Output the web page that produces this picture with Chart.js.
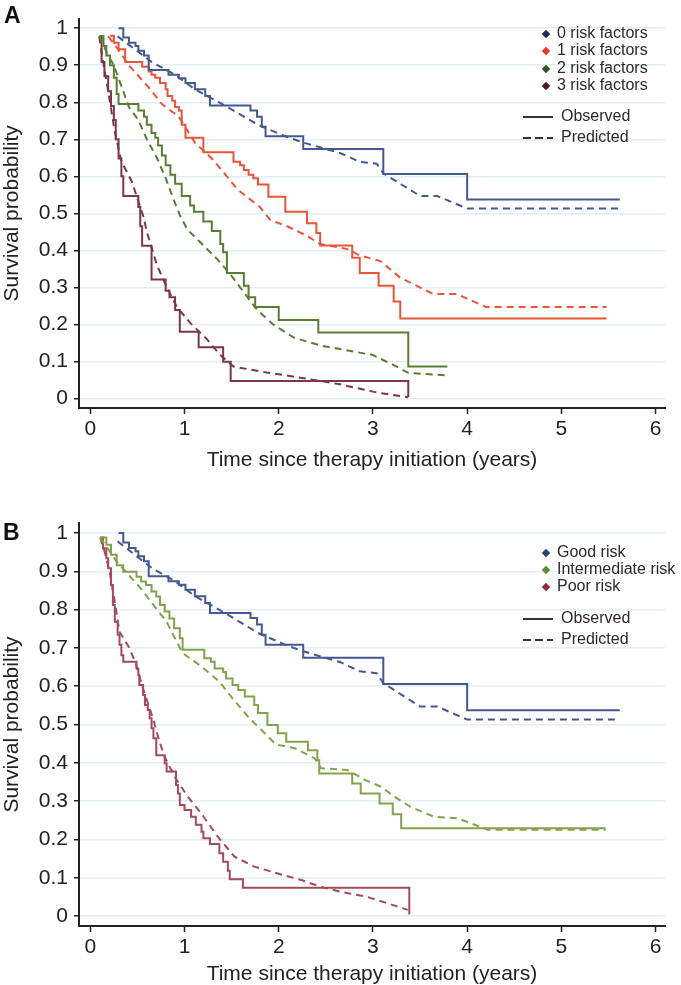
<!DOCTYPE html>
<html>
<head>
<meta charset="utf-8">
<script src="https://cdn.jsdelivr.net/npm/chart.js@4.4.1/dist/chart.umd.min.js"></script>
<style>
  body { margin: 0; overflow: hidden; background: #fff; font-family: "Liberation Sans", Arial, sans-serif; }
  #wrap { position: relative; width: 681px; height: 985px; }
  canvas { position: absolute; left: 0; }
  .panel { position: absolute; font-weight: bold; font-size: 23px; color: #111; }
  .lg { position: absolute; font-size: 16px; line-height: 18px; color: #2a2a2a; white-space: nowrap; }
  .dia { position: absolute; width: 6px; height: 6px; transform: rotate(45deg); }
  .key { position: absolute; width: 30px; height: 2px; }
</style>
</head>
<body>
<div id="wrap">
  <canvas id="chartA" width="681" height="490" style="top:0"></canvas>
  <canvas id="chartB" width="681" height="495" style="top:490px"></canvas>
  <div class="panel" style="left:4px;top:2px">A</div>
  <div class="panel" style="left:3px;top:519px">B</div>
</div>
<script>
// tick labels
const xTicks = [0, 1, 2, 3, 4, 5, 6];
const yTicks = [0, 0.1, 0.2, 0.3, 0.4, 0.5, 0.6, 0.7, 0.8, 0.9, 1];

// panel A categories
const catsA = ['0 risk factors', '1 risk factors', '2 risk factors', '3 risk factors'];
// panel B categories
const catsB = ['Good risk', 'Intermediate risk', 'Poor risk'];
const keyLabels = ['Observed', 'Predicted'];

// A: 0 risk factors
const zeroObsT = [0.30,0.35,0.41,0.48,0.51,0.57,0.62,0.83,0.94,1.01,1.11,1.22,1.27,1.70,1.77,1.82,1.86,2.26,3.11,4.00,5.62];
const zeroObsS = [1.000,0.975,0.961,0.952,0.939,0.926,0.887,0.874,0.865,0.852,0.835,0.817,0.791,0.778,0.761,0.734,0.708,0.674,0.606,0.537,0.537];
const zeroPredT = [0.29,0.65,0.90,1.11,1.43,1.78,2.07,2.26,2.65,2.86,3.04,3.11,3.50,3.68,4.00,5.62];
const zeroPredS = [0.978,0.909,0.874,0.835,0.791,0.739,0.708,0.691,0.663,0.639,0.634,0.608,0.547,0.547,0.513,0.513];

// A: 1 risk factor
const oneObsT = [0.21,0.25,0.30,0.37,0.55,0.62,0.65,0.69,0.74,0.80,0.82,0.87,0.90,0.94,0.97,1.01,1.20,1.52,1.59,1.63,1.68,1.73,1.78,1.89,2.07,2.30,2.40,2.44,2.78,2.86,3.06,3.22,3.29,5.48];
const oneObsS = [0.980,0.961,0.943,0.909,0.896,0.883,0.874,0.866,0.852,0.835,0.817,0.804,0.787,0.778,0.739,0.704,0.665,0.639,0.630,0.617,0.604,0.595,0.578,0.545,0.504,0.473,0.447,0.413,0.380,0.339,0.304,0.262,0.216,0.216];
const onePredT = [0.19,0.28,0.41,0.62,0.76,0.94,1.11,1.29,1.45,1.56,1.80,1.91,2.09,2.30,2.44,2.72,2.86,3.08,3.29,3.64,3.89,4.20,5.48];
const onePredS = [0.978,0.948,0.900,0.840,0.795,0.761,0.691,0.648,0.600,0.565,0.517,0.482,0.465,0.439,0.417,0.404,0.386,0.371,0.326,0.282,0.282,0.247,0.247];

// A: 2 risk factors
const twoObsT = [0.095,0.14,0.17,0.21,0.25,0.28,0.30,0.51,0.57,0.60,0.65,0.69,0.72,0.76,0.80,0.85,0.90,0.97,1.06,1.10,1.20,1.29,1.38,1.41,1.45,1.63,1.68,1.75,2.00,2.42,3.375,3.79];
const twoObsS = [0.978,0.952,0.926,0.900,0.866,0.822,0.795,0.778,0.761,0.739,0.717,0.704,0.683,0.656,0.630,0.604,0.580,0.547,0.521,0.504,0.478,0.452,0.417,0.395,0.339,0.304,0.273,0.247,0.212,0.178,0.086,0.086];
const twoPredT = [0.095,0.19,0.25,0.41,0.51,0.60,0.71,0.80,0.88,0.95,1.03,1.17,1.34,1.49,1.59,1.77,1.94,2.16,2.44,2.72,3.00,3.22,3.375,3.79];
const twoPredS = [0.978,0.926,0.900,0.787,0.752,0.700,0.648,0.595,0.540,0.495,0.456,0.421,0.378,0.334,0.300,0.239,0.200,0.164,0.143,0.130,0.117,0.090,0.069,0.062];

// A: 3 risk factors
const threeObsT = [0.095,0.12,0.15,0.19,0.22,0.25,0.27,0.30,0.33,0.35,0.51,0.53,0.55,0.65,0.80,0.84,0.90,0.95,1.15,1.41,1.49,3.375,3.375];
const threeObsS = [0.978,0.909,0.870,0.830,0.790,0.752,0.700,0.648,0.600,0.547,0.517,0.465,0.412,0.321,0.291,0.273,0.239,0.180,0.138,0.099,0.047,0.047,0.004];
const threePredT = [0.095,0.124,0.19,0.26,0.33,0.44,0.50,0.565,0.60,0.707,0.813,0.919,1.06,1.237,1.38,1.52,1.87,2.23,2.65,3.04,3.375];
const threePredS = [0.978,0.926,0.830,0.720,0.640,0.586,0.540,0.490,0.450,0.360,0.300,0.247,0.204,0.160,0.117,0.086,0.070,0.056,0.038,0.016,0.003];

// B: good risk (same patients as 0 risk factors)
const goodObsT = [0.30,0.35,0.41,0.48,0.51,0.57,0.62,0.83,0.94,1.01,1.11,1.22,1.27,1.70,1.77,1.82,1.86,2.26,3.11,4.00,5.62];
const goodObsS = [1.000,0.975,0.961,0.952,0.939,0.926,0.887,0.874,0.865,0.852,0.835,0.817,0.791,0.778,0.761,0.734,0.708,0.674,0.606,0.537,0.537];
const goodPredT = [0.29,0.65,0.90,1.11,1.43,1.78,2.07,2.26,2.65,2.86,3.04,3.11,3.50,3.68,4.00,5.62];
const goodPredS = [0.978,0.909,0.874,0.835,0.791,0.739,0.708,0.691,0.663,0.639,0.634,0.608,0.547,0.547,0.513,0.513];

// B: intermediate risk
const interObsT = [0.106,0.17,0.22,0.28,0.35,0.49,0.54,0.59,0.65,0.70,0.74,0.79,0.84,0.89,0.95,0.98,1.21,1.28,1.32,1.41,1.44,1.51,1.57,1.64,1.74,1.78,1.88,1.99,2.08,2.31,2.41,2.43,2.78,2.87,3.07,3.21,3.30,5.47];
const interObsS = [0.988,0.969,0.943,0.916,0.899,0.886,0.873,0.864,0.847,0.834,0.812,0.795,0.777,0.751,0.725,0.695,0.673,0.664,0.646,0.637,0.620,0.603,0.590,0.573,0.551,0.530,0.499,0.477,0.455,0.433,0.407,0.372,0.346,0.320,0.294,0.266,0.229,0.229];
const interPredT = [0.106,0.28,0.52,0.67,0.81,0.98,1.16,1.37,1.51,1.69,1.87,1.97,2.17,2.38,2.45,2.73,2.92,3.09,3.23,3.40,3.65,3.90,4.22,5.47];
const interPredS = [0.988,0.925,0.860,0.812,0.768,0.686,0.655,0.612,0.568,0.516,0.473,0.448,0.438,0.412,0.386,0.381,0.355,0.337,0.311,0.285,0.259,0.255,0.225,0.225];

// B: poor risk
const poorObsT = [0.106,0.135,0.17,0.19,0.22,0.24,0.26,0.29,0.31,0.33,0.35,0.49,0.51,0.52,0.56,0.58,0.61,0.63,0.65,0.67,0.70,0.79,0.81,0.91,0.93,0.95,1.00,1.07,1.12,1.18,1.20,1.27,1.37,1.41,1.46,1.48,1.62,3.386,3.386];
const poorObsS = [0.988,0.960,0.934,0.908,0.864,0.812,0.768,0.734,0.708,0.681,0.664,0.646,0.629,0.603,0.577,0.551,0.538,0.516,0.490,0.464,0.420,0.399,0.377,0.342,0.320,0.290,0.277,0.259,0.238,0.220,0.203,0.188,0.164,0.142,0.118,0.096,0.074,0.074,0.004];
const poorPredT = [0.106,0.152,0.205,0.26,0.31,0.417,0.488,0.558,0.665,0.735,0.788,0.894,1.036,1.177,1.354,1.53,1.74,1.99,2.24,2.45,2.66,2.94,3.157,3.37];
const poorPredS = [0.988,0.951,0.899,0.820,0.742,0.699,0.655,0.595,0.516,0.455,0.416,0.364,0.311,0.268,0.207,0.155,0.129,0.111,0.094,0.076,0.063,0.050,0.033,0.016];

const colA = ['#44598f', '#e8553a', '#5a7d34', '#7a3747'];
const dotA = ['#1c2b57', '#e8392a', '#2f5420', '#4f1822'];
const colB = ['#44598f', '#84a24c', '#a24b5c'];
const dotB = ['#27407a', '#5f8c2d', '#8e2c3c'];

const FONT = '"Liberation Sans", Arial, sans-serif';

function pts(t, s) {
  return t.map((x, i) => ({ x: x, y: s[i] }));
}

function obs(t, s, c) {
  return { data: pts(t, s), borderColor: c, borderWidth: 2, pointRadius: 0, stepped: true, fill: false };
}
function pred(t, s, c) {
  return { data: pts(t, s), borderColor: c, borderWidth: 2, borderDash: [7, 5], pointRadius: 0, tension: 0, fill: false };
}

function makeChart(id, datasets, padTop, xHeight, titlePadBottom) {
  return new Chart(document.getElementById(id), {
    type: 'line',
    data: { datasets: datasets },
    options: {
      responsive: false,
      animation: false,
      layout: { padding: { top: padTop, right: 16, left: 0, bottom: 0 } },
      plugins: { legend: { display: false }, tooltip: { enabled: false } },
      scales: {
        x: {
          type: 'linear', min: -0.12, max: 6.1,
          afterBuildTicks: s => { s.ticks = xTicks.map(v => ({ value: v })); },
          afterFit: s => { s.height = xHeight; },
          grid: { drawOnChartArea: false, drawTicks: true, tickLength: 6, tickColor: '#222', tickWidth: 1.5 },
          border: { display: true, color: '#222', width: 2 },
          ticks: { color: '#222', padding: 3, maxRotation: 0, font: { family: FONT, size: 21 } },
          title: { display: true, text: 'Time since therapy initiation (years)', color: '#222',
                   padding: { top: 0, bottom: titlePadBottom }, font: { family: FONT, size: 21, lineHeight: 1 } }
        },
        y: {
          type: 'linear', min: -0.026, max: 1.026,
          afterBuildTicks: s => { s.ticks = yTicks.map(v => ({ value: v })); },
          afterFit: s => { s.width = 79; },
          grid: { color: '#e4edf4', lineWidth: 1.5, drawTicks: true, tickLength: 5, tickColor: '#222', tickWidth: 1.5 },
          border: { display: true, color: '#222', width: 2 },
          ticks: { color: '#222', padding: 6, font: { family: FONT, size: 21 },
                   callback: v => String(Math.round(v * 10) / 10) },
          title: { display: true, text: 'Survival probability', color: '#222',
                   padding: { top: 2, bottom: 0 }, font: { family: FONT, size: 21, lineHeight: 1 } }
        }
      }
    }
  });
}

makeChart('chartA', [
  obs(zeroObsT, zeroObsS, colA[0]), pred(zeroPredT, zeroPredS, colA[0]),
  obs(oneObsT, oneObsS, colA[1]), pred(onePredT, onePredS, colA[1]),
  obs(twoObsT, twoObsS, colA[2]), pred(twoPredT, twoPredS, colA[2]),
  obs(threeObsT, threeObsS, colA[3]), pred(threePredT, threePredS, colA[3])
], 5, 82, 19.5);

makeChart('chartB', [
  obs(goodObsT, goodObsS, colB[0]), pred(goodPredT, goodPredS, colB[0]),
  obs(interObsT, interObsS, colB[1]), pred(interPredT, interPredS, colB[1]),
  obs(poorObsT, poorObsS, colB[2]), pred(poorPredT, poorPredS, colB[2])
], 33, 59, 0);

// legends drawn as html text inside the plot area
const wrap = document.getElementById('wrap');
function add(cls, style, text) {
  const d = document.createElement('div');
  d.className = cls;
  d.setAttribute('style', style);
  if (text) d.textContent = text;
  wrap.appendChild(d);
}
function legend(cats, dots, top, step, keyTop) {
  cats.forEach((c, i) => {
    const y = top + i * step;
    add('dia', `left:${543}px;top:${y - 3}px;background:${dots[i]}`);
    add('lg', `left:557px;top:${y - 10}px`, c);
  });
  keyLabels.forEach((k, i) => {
    const y = keyTop + i * 21;
    const bg = i === 0 ? '#333' : 'repeating-linear-gradient(to right,#333 0 8px,transparent 8px 12px)';
    add('key', `left:523px;top:${y - 1}px;background:${bg}`);
    add('lg', `left:561px;top:${y - 10}px`, k);
  });
}
legend(catsA, dotA, 34, 17.3, 117);
legend(catsB, dotB, 553, 17, 619);
</script>
</body>
</html>
